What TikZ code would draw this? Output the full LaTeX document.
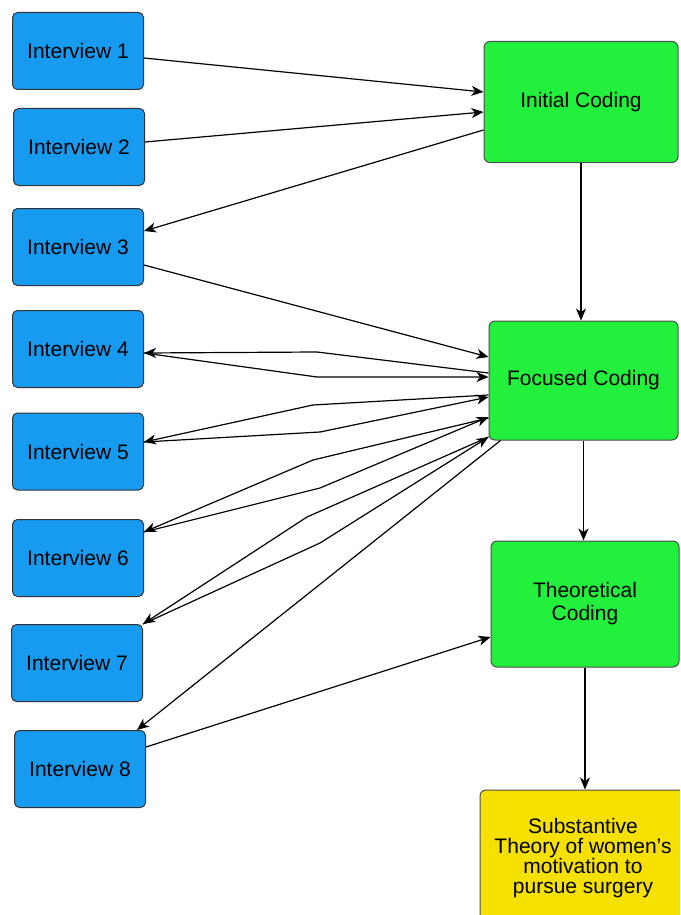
\documentclass[tikz,border=0pt]{standalone}
\usepackage{fontspec}
\setmainfont{Liberation Sans}
\usetikzlibrary{arrows.meta}

\definecolor{ivblue}{RGB}{22,155,240}
\definecolor{codegreen}{RGB}{34,240,60}
\definecolor{theoyellow}{RGB}{246,224,0}

\begin{document}
\begin{tikzpicture}[x=1pt,y=-1pt,
  iview/.style={rectangle,draw=black!80,line width=1pt,fill=ivblue,rounded corners=5pt,minimum width=131pt,minimum height=77pt,inner sep=0pt,font=\fontsize{21}{22}\selectfont},
  coding/.style={rectangle,draw=black!70,line width=1pt,fill=codegreen,rounded corners=6pt,inner sep=0pt,align=center,font=\fontsize{21}{23}\selectfont},
  theory/.style={rectangle,draw=black!70,line width=1pt,fill=theoyellow,rounded corners=6pt,inner sep=0pt,align=center,font=\fontsize{21}{19.5}\selectfont},
  arr/.style={-{Stealth[length=12pt,width=10pt,inset=3.5pt]},line width=1.2pt}]

\clip (0,0) rectangle (680,915);

% Nodes
\node[iview] (i1) at (78,51) {Interview 1};
\node[iview] (i2) at (79,147) {Interview 2};
\node[iview] (i3) at (78,247) {Interview 3};
\node[iview] (i4) at (78,349) {Interview 4};
\node[iview] (i5) at (78,451.5) {Interview 5};
\node[iview] (i6) at (78,558) {Interview 6};
\node[iview] (i7) at (77,663) {Interview 7};
\node[iview] (i8) at (80,769) {Interview 8};

\node[coding,minimum width=194pt,minimum height=121pt] (init) at (581,102) {Initial Coding};
\node[coding,minimum width=189pt,minimum height=119pt] (foc) at (583.5,380.5) {Focused Coding};
\node[coding,minimum width=188pt,minimum height=126pt] (theo) at (585,604) {Theoretical\\Coding};
\node[theory,minimum width=206pt,minimum height=136pt] (sub) at (583,858) {Substantive\\Theory of women’s\\motivation to\\pursue surgery};

%arcs
\path ([yshift=-7pt]i1.east) edge[arr] ([yshift=10pt]init.west);
\path ([yshift=5pt]i2.east) edge[arr] ([yshift=-10pt]init.west);
\path ([yshift=-28pt]init.west) edge[arr] ([yshift=16pt]i3.east);
\path ([yshift=-18pt]i3.east) edge[arr] ([yshift=23.5pt]foc.west);

\draw[arr] ([yshift=7.5pt]foc.west) -- (317,352) -- ([yshift=-4pt]i4.east);
\draw[arr] ([yshift=-4pt]i4.east) -- (317,377) -- ([yshift=3.5pt]foc.west);

\draw[arr] ([yshift=-14.5pt]foc.west) -- (313,405) -- ([yshift=9.5pt]i5.east);
\draw[arr] ([yshift=9.5pt]i5.east) -- (320,432) -- ([yshift=-16.5pt]foc.west);

\draw[arr] ([yshift=-37.5pt]foc.west) -- (313,460) -- ([yshift=26pt]i6.east);
\draw[arr] ([yshift=26pt]i6.east) -- (320,488) -- ([yshift=-36.5pt]foc.west);

\draw[arr] ([yshift=-56.5pt]foc.west) -- (307,517) -- (i7.north east);
\draw[arr] (i7.north east) -- (320,543) -- ([yshift=-56.5pt]foc.west);

\path ([xshift=12pt]foc.south west) edge[arr] ([xshift=-9pt]i8.north east);
\path ([yshift=22pt]i8.east) edge[arr] ([yshift=-33pt]theo.west);

\path (init.south) edge[arr] (init.south |- foc.north);
\path (foc.south) edge[arr] (foc.south |- theo.north);
\path (theo.south) edge[arr] (theo.south |- sub.north);
\end{tikzpicture}
\end{document}
